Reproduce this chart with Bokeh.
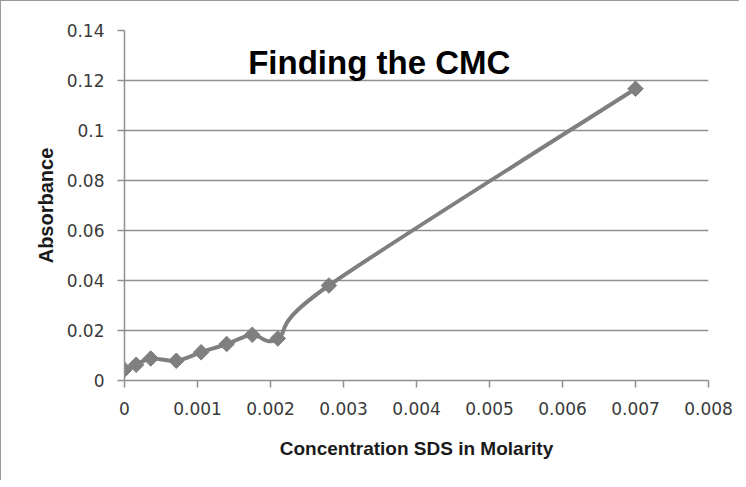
import math
from bokeh.plotting import figure
from bokeh.models import Range1d, FixedTicker, NumeralTickFormatter, Label
from bokeh.embed import file_html
from bokeh.resources import INLINE

# ---- data ----
concentration = [0.0, 0.00016, 0.00036, 0.00071, 0.00105, 0.0014, 0.00175, 0.0021, 0.0028, 0.007]
absorbance = [0.0043, 0.0063, 0.0088, 0.0079, 0.0113, 0.0146, 0.0183, 0.0168, 0.038, 0.1167]

x_ticks = [0.0, 0.001, 0.002, 0.003, 0.004, 0.005, 0.006, 0.007, 0.008]
x_tick_labels = ["0", "0.001", "0.002", "0.003", "0.004", "0.005", "0.006", "0.007", "0.008"]
y_ticks = [0.0, 0.02, 0.04, 0.06, 0.08, 0.1, 0.12, 0.14]
y_tick_labels = ["0", "0.02", "0.04", "0.06", "0.08", "0.1", "0.12", "0.14"]

title_text = "Finding the CMC"
x_title = "Concentration SDS in Molarity"
y_title = "Absorbance"

SERIES = "#7f7f7f"
GRID = "#8f8f8f"

p = figure(width=738, height=479, frame_width=584, frame_height=350,
           min_border_left=123, min_border_right=31, min_border_top=29, min_border_bottom=100,
           x_range=Range1d(0, 0.008), y_range=Range1d(0, 0.14),
           output_backend="svg", toolbar_location=None)
p.outline_line_color = None
p.background_fill_color = "white"
p.border_fill_color = "white"

# axes
for ax in (p.xaxis[0], p.yaxis[0]):
    ax.axis_line_color = GRID
    ax.axis_line_width = 1.5
    ax.major_tick_line_color = GRID
    ax.major_tick_line_width = 1.5
    ax.major_tick_in = 0
    ax.major_tick_out = 7
    ax.minor_tick_line_color = None
    ax.major_label_text_font = "DejaVu Sans"
    ax.major_label_text_font_size = "17px"
    ax.major_label_text_color = "#3a3a3a"
    ax.axis_label_text_font = "Liberation Sans"
    ax.axis_label_text_font_style = "bold"
    ax.axis_label_text_color = "#1a1a1a"

p.xaxis.ticker = FixedTicker(ticks=x_ticks)
p.xaxis.formatter = NumeralTickFormatter(format="0.[000]")
p.xaxis.major_label_overrides = {t: l for t, l in zip(x_ticks, x_tick_labels)}
p.xaxis.major_label_standoff = 14
p.xaxis.axis_label = x_title
p.xaxis.axis_label_text_font_size = "19px"
p.xaxis.axis_label_standoff = 20

p.yaxis.ticker = FixedTicker(ticks=y_ticks)
p.yaxis.formatter = NumeralTickFormatter(format="0.[00]")
p.yaxis.major_label_overrides = {t: l for t, l in zip(y_ticks, y_tick_labels)}
p.yaxis.major_label_standoff = 13
p.yaxis.axis_label = y_title
p.yaxis.axis_label_text_font_size = "20px"
p.yaxis.axis_label_standoff = 7

p.xgrid.grid_line_color = None
p.ygrid.ticker = FixedTicker(ticks=y_ticks)
p.ygrid.grid_line_color = GRID
p.ygrid.grid_line_width = 1.5

# smoothed line (Excel-like Catmull-Rom bezier through the points)
n = len(concentration)
x0, y0, x1, y1, cx0, cy0, cx1, cy1 = [], [], [], [], [], [], [], []
for i in range(n - 1):
    xa, ya = concentration[i], absorbance[i]
    xb, yb = concentration[i + 1], absorbance[i + 1]
    xp, yp = (concentration[i - 1], absorbance[i - 1]) if i > 0 else (xa, ya)
    xn, yn = (concentration[i + 2], absorbance[i + 2]) if i + 2 < n else (xb, yb)
    x0.append(xa); y0.append(ya); x1.append(xb); y1.append(yb)
    cx0.append(xa + (xb - xp) / 6.0); cy0.append(ya + (yb - yp) / 6.0)
    cx1.append(xb - (xn - xa) / 6.0); cy1.append(yb - (yn - ya) / 6.0)
p.bezier(x0=x0, y0=y0, x1=x1, y1=y1, cx0=cx0, cy0=cy0, cx1=cx1, cy1=cy1,
         line_color=SERIES, line_width=4)

p.scatter(concentration, absorbance, marker="square", size=11, angle=math.pi / 4,
          fill_color=SERIES, line_color=SERIES)

p.add_layout(Label(x=0.00349, y=0.1272, text=title_text, text_align="center",
                   text_baseline="alphabetic", text_font="Liberation Sans",
                   text_font_style="bold", text_font_size="33px", text_color="black"))

p.styles = {"border-top": "1px solid #9a9a9a", "border-left": "1px solid #9a9a9a"}

open("out.html", "w").write(file_html(p, INLINE))
